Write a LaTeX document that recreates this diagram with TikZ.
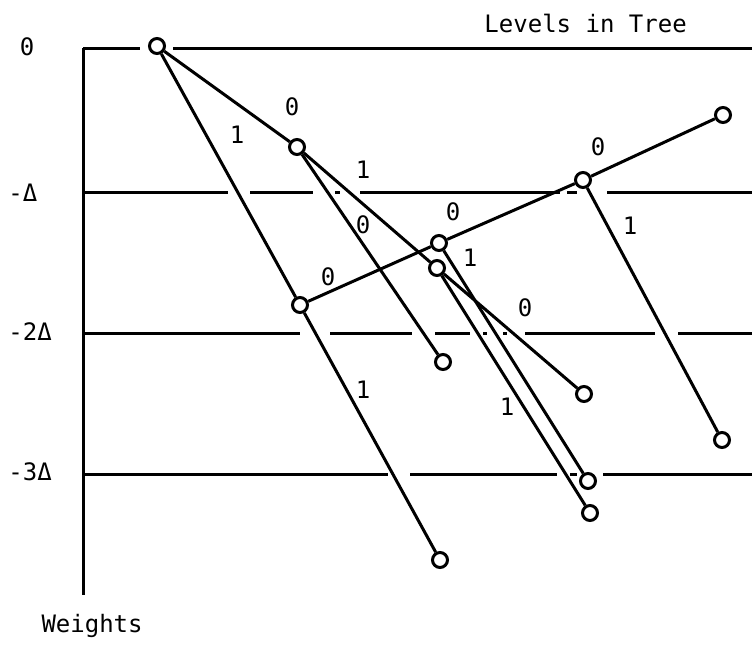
\documentclass[tikz,border=0pt]{standalone}
\usepackage{fontspec}
\setmonofont{DejaVu Sans Mono}

\begin{document}
\begin{tikzpicture}[x=0.5pt, y=-0.5pt, line width=1.5pt,
    font=\ttfamily\fontsize{12}{14}\selectfont,
    vtx/.style={circle, draw, fill=white, inner sep=0pt, minimum size=7.5pt},
    lbl/.style={inner sep=0pt}]
  \useasboundingbox (0,0) rectangle (752,645);
  % weight axis and levels
  \draw (83,48) -- (83,595);
  \foreach \a/\b in {83/140, 173/752} \draw (\a,48) -- (\b,48);
  \foreach \a/\b in {83/228, 250/313, 335/340, 360/560, 567/577, 607/752}
    \draw (\a,192) -- (\b,192);
  \foreach \a/\b in {83/300, 330/412, 435/470, 483/487, 503/507, 525/655, 678/752}
    \draw (\a,333) -- (\b,333);
  \foreach \a/\b in {83/388, 410/557, 570/577, 603/752}
    \draw (\a,474) -- (\b,474);
  \node[lbl] (w0) at (27,47) {0};
  \node[lbl, anchor=west] (w1) at (7,193) {-Δ};
  \node[lbl, anchor=west] (w2) at (7,332) {-2Δ};
  \node[lbl, anchor=west] (w3) at (7,472) {-3Δ};
  \node[lbl, anchor=west] (levels) at (483,23) {Levels in Tree};
  \node[lbl, anchor=west] (weights) at (40,626) {Weights};
  % tree
  \node[vtx] (A) at (157,46) {};
  \node[vtx] (B) at (297,147) {};
  \node[vtx] (C) at (300,305) {};
  \node[vtx] (D) at (439,243) {};
  \node[vtx] (E) at (437,268) {};
  \node[vtx] (H) at (443,362) {};
  \node[vtx] (M) at (440,560) {};
  \node[vtx] (F) at (583,180) {};
  \node[vtx] (I) at (584,394) {};
  \node[vtx] (J) at (588,481) {};
  \node[vtx] (K) at (590,513) {};
  \node[vtx] (G) at (723,115) {};
  \node[vtx] (L) at (722,440) {};
  \draw (A) -- (B);
  \draw (A) -- (C);
  \draw (B) -- (E);
  \draw (B) -- (H);
  \draw (C) -- (D);
  \draw (C) -- (M);
  \draw (D) -- (F);
  \draw (D) -- (J);
  \draw (E) -- (I);
  \draw (E) -- (K);
  \draw (F) -- (G);
  \draw (F) -- (L);
  \node[lbl] (lAB) at (292,107) {0};
  \node[lbl] (lAC) at (237,135) {1};
  \node[lbl] (lBE) at (363,170) {1};
  \node[lbl] (lBH) at (363,225) {0};
  \node[lbl] (lCD) at (328,277) {0};
  \node[lbl] (lCM) at (363,390) {1};
  \node[lbl] (lDF) at (453,212) {0};
  \node[lbl] (lDJ) at (470,258) {1};
  \node[lbl] (lEI) at (525,308) {0};
  \node[lbl] (lEK) at (507,407) {1};
  \node[lbl] (lFG) at (598,147) {0};
  \node[lbl] (lFL) at (630,226) {1};
\end{tikzpicture}
\end{document}
